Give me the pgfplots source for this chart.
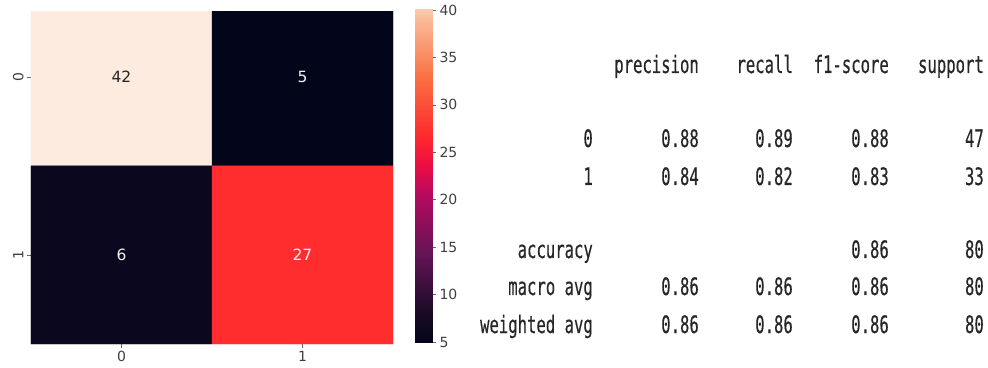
\documentclass[border=0pt]{standalone}
\usepackage{pgfplots}
\pgfplotsset{compat=1.18}
\usepackage{fontspec}
\setmainfont{DejaVu Sans}
\newfontfamily\monofont[FakeStretch=0.65,FakeBold=0.4]{DejaVu Sans Mono}
\pgfplotsset{
  colormap={rocket}{rgb255(0cm)=(3,5,26) rgb255(1cm)=(26,10,38) rgb255(3cm)=(100,20,85) rgb255(5cm)=(180,10,95) rgb255(6cm)=(235,12,70) rgb255(7cm)=(255,40,45) rgb255(9cm)=(250,110,65) rgb255(11cm)=(250,185,150) rgb255(12cm)=(252,235,222)}
}
\pgfplotstableread{
x y C
0 0 42
1 0 5
0 1 6
1 1 27
}\cmdata
\begin{document}
\begin{tikzpicture}[x=1pt,y=1pt]
\useasboundingbox (0,0) rectangle (988,367);
% heatmap
\begin{axis}[
  at={(31pt,23pt)}, anchor=south west, scale only axis,
  width=362pt, height=333pt,
  xmin=-0.5, xmax=1.5, ymin=-0.37, ymax=1.5, y dir=reverse,
  colormap name=rocket, point meta min=5, point meta max=42,
  xtick={0,1}, ytick={0,1}, xticklabels={0,1}, yticklabels={0,1},
  xtick pos=bottom, ytick pos=left,
  yticklabel style={rotate=90},
  axis line style={draw=none},
  tick align=outside, major tick length=4pt,
  tick style={color=black!60, line width=0.6pt},
  tick label style={font=\fontsize{14}{16}\selectfont, text=black!75},
]
\addplot[matrix plot*, mesh/cols=2, point meta=explicit] table[x=x, y=y, meta=C] {\cmdata};
\addplot[draw=none, mark=none, nodes near coords, point meta=explicit symbolic,
  nodes near coords align={center},
  every node near coord/.style={text=black!85, font=\fontsize{15.5}{17}\selectfont}]
  table[meta=L] {
x y L
0 0 42
};
\addplot[draw=none, mark=none, nodes near coords, point meta=explicit symbolic,
  nodes near coords align={center},
  every node near coord/.style={text=white!94!black, font=\fontsize{15.5}{17}\selectfont}]
  table[meta=L] {
x y L
1 0 5
0 1 6
1 1 27
};
\end{axis}
% colorbar
\begin{axis}[
  at={(415pt,25pt)}, anchor=south west, scale only axis,
  width=17pt, height=332pt,
  xmin=0, xmax=1, ymin=5, ymax=40,
  colormap name=rocket, point meta min=5, point meta max=42,
  xtick=\empty, ytick={5,10,...,40},
  ytick pos=right, yticklabel pos=right,
  axis line style={draw=none},
  tick align=outside, major tick length=4pt,
  tick style={color=black!60, line width=0.6pt},
  /pgf/number format/assume math mode=true,
  yticklabel style={font=\fontsize{14}{16}\selectfont, text=black!75},
]
\addplot[surf, shader=interp, mesh/rows=2, point meta=y] coordinates {
(0,5) (1,5)

(0,42) (1,42)
};
\end{axis}
% classification report
\begin{scope}[every node/.style={inner sep=0pt, anchor=base east, text=black!85, font=\monofont\fontsize{24}{26}\selectfont}]
\node at (699,294) {precision};
\node at (793,294) {recall};
\node at (889,294) {f1-score};
\node at (984,294) {support};
\node at (593,220) {0};
\node at (699,220) {0.88};
\node at (793,220) {0.89};
\node at (889,220) {0.88};
\node at (984,220) {47};
\node at (593,182) {1};
\node at (699,182) {0.84};
\node at (793,182) {0.82};
\node at (889,182) {0.83};
\node at (984,182) {33};
\node at (593,109) {accuracy};
\node at (889,109) {0.86};
\node at (984,109) {80};
\node at (593,72) {macro avg};
\node at (699,72) {0.86};
\node at (793,72) {0.86};
\node at (889,72) {0.86};
\node at (984,72) {80};
\node at (593,34) {weighted avg};
\node at (699,34) {0.86};
\node at (793,34) {0.86};
\node at (889,34) {0.86};
\node at (984,34) {80};
\end{scope}
\end{tikzpicture}
\end{document}
